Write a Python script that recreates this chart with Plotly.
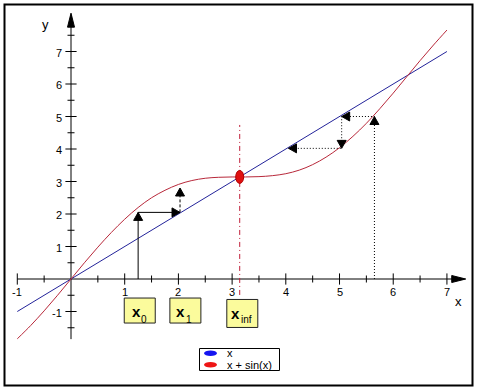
import plotly.graph_objects as go

# ---------------- data ----------------
line_x = [-1, 7]                      # y = x
line_y = [-1, 7]

curve_x = [-1, -0.75, -0.5, -0.25, 0, 0.25, 0.5, 0.75, 1, 1.25, 1.5, 1.75, 2, 2.25,
           2.5, 2.75, 3, 3.25, 3.5, 3.75, 4, 4.25, 4.5, 4.75, 5, 5.25, 5.5, 5.75,
           6, 6.25, 6.5, 6.75, 7]      # y = x + sin(x)
curve_y = [-1.84, -1.43, -0.98, -0.50, 0, 0.50, 0.98, 1.43, 1.84, 2.20, 2.50, 2.73,
           2.91, 3.03, 3.10, 3.13, 3.14, 3.14, 3.15, 3.18, 3.24, 3.35, 3.52, 3.75,
           4.04, 4.39, 4.79, 5.24, 5.72, 6.22, 6.72, 7.20, 7.66]

xtick_vals = [-1, 1, 2, 3, 4, 5, 6, 7]
xtick_text = ["-1", "1", "2", "3", "4", "5", "6", "7"]
ytick_vals = [-1, 1, 2, 3, 4, 5, 6, 7]
ytick_text = ["-1", "1", "2", "3", "4", "5", "6", "7"]
xminor_vals = [-0.5, 0.5, 1.5, 2.5, 3.5, 4.5, 5.5, 6.5]
yminor_vals = [-1.5, -0.5, 0.5, 1.5, 2.5, 3.5, 4.5, 5.5, 6.5, 7.5]

# iteration paths
solid_x = [1.25, 1.25, 2.03]
solid_y = [0, 2.05, 2.05]
dashed_x = [2.03, 2.03]
dashed_y = [2.05, 2.80]
dotted_x = [5.65, 5.65, 5.04, 5.04, 4.05]
dotted_y = [0, 5.00, 5.00, 4.02, 4.02]

fixed_x = 3.1416
fixed_y = 3.1416
fixed_line_y = [-0.49, 4.74]

box_main = ["x", "x", "x"]
box_sub = ["0", "1", "inf"]
box_x = [1.28, 2.13, 3.19]
box_y = [-0.97, -0.97, -1.06]

legend_names = ["x", "x + sin(x)"]
legend_colors = ["#1515f0", "#ee1515"]

BLUE = "#23239a"
RED = "#b8283a"
FONT = "Liberation Sans, Arial, sans-serif"

fig = go.Figure()

# axes lines
fig.add_trace(go.Scatter(x=[-1, 7.30], y=[0, 0], mode="lines",
                         line=dict(color="black", width=1), hoverinfo="skip"))
fig.add_trace(go.Scatter(x=[0, 0], y=[-1.85, 8.12], mode="lines",
                         line=dict(color="black", width=1), hoverinfo="skip"))
# ticks
fig.add_trace(go.Scatter(x=xtick_vals, y=[0] * len(xtick_vals), mode="markers",
                         marker=dict(symbol="line-ns", size=8, line=dict(color="black", width=1)),
                         hoverinfo="skip"))
fig.add_trace(go.Scatter(x=xminor_vals, y=[0] * len(xminor_vals), mode="markers",
                         marker=dict(symbol="line-ns", size=5, line=dict(color="black", width=1)),
                         hoverinfo="skip"))
fig.add_trace(go.Scatter(x=[0] * len(ytick_vals), y=ytick_vals, mode="markers",
                         marker=dict(symbol="line-ew", size=8, line=dict(color="black", width=1)),
                         hoverinfo="skip"))
fig.add_trace(go.Scatter(x=[0] * len(yminor_vals), y=yminor_vals, mode="markers",
                         marker=dict(symbol="line-ew", size=5, line=dict(color="black", width=1)),
                         hoverinfo="skip"))

# curves
fig.add_trace(go.Scatter(x=line_x, y=line_y, mode="lines", name=legend_names[0],
                         line=dict(color=BLUE, width=1)))
fig.add_trace(go.Scatter(x=curve_x, y=curve_y, mode="lines", name=legend_names[1],
                         line=dict(color=RED, width=1, shape="spline")))

# iteration lines
fig.add_trace(go.Scatter(x=solid_x, y=solid_y, mode="lines",
                         line=dict(color="black", width=1), hoverinfo="skip"))
fig.add_trace(go.Scatter(x=dashed_x, y=dashed_y, mode="lines",
                         line=dict(color="black", width=1, dash="3px,2px"), hoverinfo="skip"))
fig.add_trace(go.Scatter(x=dotted_x, y=dotted_y, mode="lines",
                         line=dict(color="black", width=1, dash="1px,2px"), hoverinfo="skip"))
# fixed-point vertical
fig.add_trace(go.Scatter(x=[fixed_x, fixed_x], y=fixed_line_y, mode="lines",
                         line=dict(color="#c0203a", width=1, dash="5px,3px,1px,3px"),
                         hoverinfo="skip"))

shapes = []


def head(xt, yt, direction, L=8, W=4.5):
    paths = {
        "up": f"M0,0 L{-W},{-L} L{W},{-L} Z",
        "down": f"M0,0 L{-W},{L} L{W},{L} Z",
        "right": f"M0,0 L{-L},{-W} L{-L},{W} Z",
        "left": f"M0,0 L{L},{-W} L{L},{W} Z",
    }
    return dict(type="path", xref="x", yref="y", xsizemode="pixel", ysizemode="pixel",
                xanchor=xt, yanchor=yt, path=paths[direction],
                fillcolor="black", line=dict(color="black", width=1))


def path_heads(xs, ys):
    out = []
    for i in range(1, len(xs)):
        dx = xs[i] - xs[i - 1]
        dy = ys[i] - ys[i - 1]
        if abs(dx) > abs(dy):
            d = "right" if dx > 0 else "left"
        else:
            d = "up" if dy > 0 else "down"
        out.append(head(xs[i], ys[i], d))
    return out


shapes += path_heads(solid_x, solid_y)
shapes += path_heads(dashed_x, dashed_y)
shapes += path_heads(dotted_x, dotted_y)

# axis arrowheads
shapes.append(dict(type="path", xref="x", yref="y", xsizemode="pixel", ysizemode="pixel",
                   xanchor=7.35, yanchor=0, path="M0,0 L-14,-3.5 L-14,3.5 Z",
                   fillcolor="black", line=dict(color="black", width=1)))
shapes.append(dict(type="path", xref="x", yref="y", xsizemode="pixel", ysizemode="pixel",
                   xanchor=0, yanchor=8.18, path="M0,0 L-3.5,-14 L3.5,-14 Z",
                   fillcolor="black", line=dict(color="black", width=1)))

# fixed point ellipse
shapes.append(dict(type="circle", xref="x", yref="y", xsizemode="pixel", ysizemode="pixel",
                   xanchor=fixed_x, yanchor=fixed_y, x0=-4, x1=4, y0=-6.5, y1=6.5,
                   fillcolor="#e01010", line=dict(color="#b00000", width=1)))

# outer frame
shapes.append(dict(type="rect", xref="paper", yref="paper",
                   x0=4.5 / 477, x1=472.5 / 477, y0=1 - 385.5 / 390, y1=1 - 4.5 / 390,
                   line=dict(color="black", width=2), fillcolor="rgba(0,0,0,0)"))

# label boxes (yellow)
box_half_h = [12.5, 12.5, 14]
for bx, by, hh in zip(box_x, box_y, box_half_h):
    shapes.append(dict(type="rect", xref="x", yref="y", xsizemode="pixel", ysizemode="pixel",
                       xanchor=bx, yanchor=by, x0=-15.5, x1=15.5, y0=-hh, y1=hh,
                       fillcolor="#fbfb9c", line=dict(color="#222222", width=1)))

# legend box
shapes.append(dict(type="rect", xref="paper", yref="paper",
                   x0=199.5 / 477, x1=279.5 / 477, y0=1 - 370.5 / 390, y1=1 - 348.5 / 390,
                   line=dict(color="black", width=1), fillcolor="white"))
legend_py = [353.3, 364.8]
for name, col, py in zip(legend_names, legend_colors, legend_py):
    shapes.append(dict(type="circle", xref="paper", yref="paper",
                       x0=204 / 477, x1=217 / 477, y0=1 - (py + 2.8) / 390, y1=1 - (py - 2.8) / 390,
                       fillcolor=col, line=dict(color=col, width=0)))

annotations = []
for v, t in zip(xtick_vals, xtick_text):
    annotations.append(dict(x=v, y=0, xref="x", yref="y", text=t, showarrow=False,
                            xanchor="center", yanchor="middle", yshift=-13,
                            font=dict(family=FONT, size=11, color="black")))
for v, t in zip(ytick_vals, ytick_text):
    annotations.append(dict(x=0, y=v, xref="x", yref="y", text=t, showarrow=False,
                            xanchor="right", yanchor="middle", xshift=-7, yshift=-1,
                            font=dict(family=FONT, size=11, color="black")))
annotations.append(dict(x=7.21, y=-0.68, text="x", showarrow=False,
                        font=dict(family=FONT, size=13, color="black")))
annotations.append(dict(x=-0.48, y=7.82, text="y", showarrow=False,
                        font=dict(family=FONT, size=13, color="black")))

# box texts: main letter and subscript as separate plain texts
main_dx = [-3.5, -5.0, -6.5]
sub_dx = [4.5, 3.5, 4.5]
main_dy = [-1, -1, 0]
sub_dy = [-8.5, -8.5, -6]
for t, s, bx, by, mdx, sdx, mdy, sdy in zip(box_main, box_sub, box_x, box_y,
                                            main_dx, sub_dx, main_dy, sub_dy):
    annotations.append(dict(x=bx, y=by, text=t, showarrow=False, xanchor="center",
                            yanchor="middle", xshift=mdx, yshift=mdy,
                            font=dict(family=FONT, size=15, color="black", weight="bold")))
    annotations.append(dict(x=bx, y=by, text=s, showarrow=False, xanchor="center",
                            yanchor="middle", xshift=sdx, yshift=sdy,
                            font=dict(family=FONT, size=10, color="black")))

for name, py in zip(legend_names, legend_py):
    annotations.append(dict(x=225 / 477, y=1 - py / 390, xref="paper", yref="paper",
                            text=name, showarrow=False, xanchor="left", yanchor="middle",
                            font=dict(family=FONT, size=11, color="black")))

fig.update_layout(
    width=477, height=390,
    margin=dict(l=0, r=0, t=0, b=0, pad=0),
    paper_bgcolor="white", plot_bgcolor="white",
    showlegend=False,
    xaxis=dict(visible=False, range=[-1.322, 7.560], fixedrange=True),
    yaxis=dict(visible=False, range=[-3.415, 8.585], fixedrange=True),
    shapes=shapes, annotations=annotations,
)

fig.write_html("out.html", config={"displayModeBar": False},
               post_script="document.body.style.margin='0';document.body.style.overflow='hidden';")
